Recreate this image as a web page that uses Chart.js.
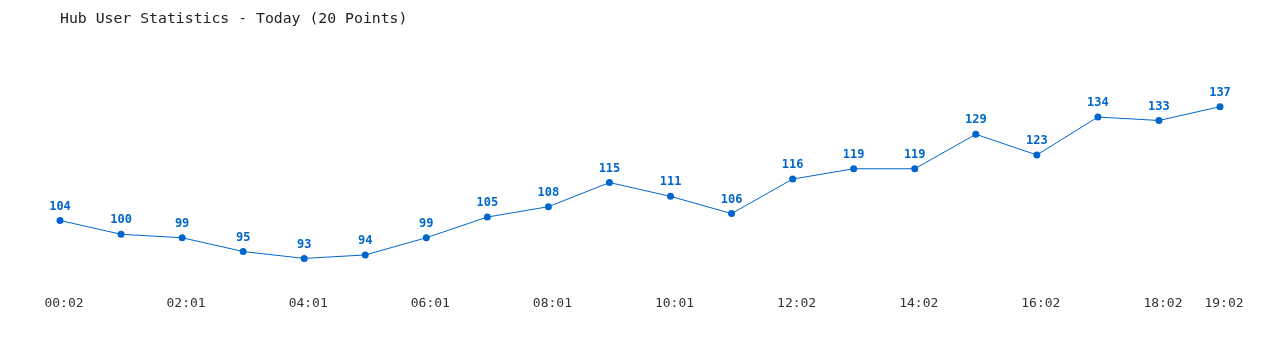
<!DOCTYPE html>
<html>
<head>
<meta charset="utf-8">
<script src="https://cdn.jsdelivr.net/npm/chart.js@4/dist/chart.umd.min.js"></script>
<style>
html,body{margin:0;padding:0;background:#fff;}
#wrap{width:1280px;height:350px;position:relative;}
</style>
</head>
<body>
<div id="wrap"><canvas id="c" width="1280" height="350"></canvas></div>
<script>
const titleText = "Hub User Statistics - Today (20 Points)";
const categories = ["00:02","01:01","02:01","03:01","04:01","05:01","06:01","07:01","08:01","09:01",
                    "10:01","11:01","12:02","13:02","14:02","15:02","16:02","17:02","18:02","19:02"];
const users = [104,100,99,95,93,94,99,105,108,115,111,106,116,119,119,129,123,134,133,137];
const shownTickIndexes = [0,2,4,6,8,10,12,14,16,18,19];

const lineColor = "#0066cc";

const valueLabels = {
  id: "valueLabels",
  afterDatasetsDraw(chart) {
    const ctx = chart.ctx;
    const meta = chart.getDatasetMeta(0);
    ctx.save();
    ctx.font = "bold 12px 'DejaVu Sans Mono', monospace";
    ctx.fillStyle = lineColor;
    ctx.textAlign = "center";
    ctx.textBaseline = "middle";
    meta.data.forEach((pt, i) => {
      ctx.fillText(String(users[i]), pt.x, pt.y - 14);
    });
    ctx.restore();
  }
};

new Chart(document.getElementById("c"), {
  type: "line",
  data: {
    labels: categories,
    datasets: [{
      data: users,
      borderColor: lineColor,
      borderWidth: 1,
      backgroundColor: lineColor,
      pointBackgroundColor: lineColor,
      pointBorderColor: lineColor,
      pointRadius: 3.5,
      pointBorderWidth: 0,
      tension: 0,
      fill: false
    }]
  },
  options: {
    responsive: false,
    animation: false,
    layout: { padding: { left: 60, right: 60, top: 0, bottom: 35.5 } },
    plugins: {
      legend: { display: false },
      tooltip: { enabled: false },
      title: {
        display: true,
        text: titleText,
        align: "start",
        color: "#222",
        font: { family: "'DejaVu Sans Mono', monospace", size: 14.8, weight: "normal" },
        padding: { top: 10, bottom: 41 }
      }
    },
    scales: {
      x: {
        offset: false,
        grid: { display: false, drawTicks: false },
        border: { display: false },
        ticks: {
          autoSkip: false,
          maxRotation: 0,
          color: "#333",
          labelOffset: 4,
          padding: 3,
          font: { family: "'DejaVu Sans Mono', monospace", size: 13 },
          callback: function(v, i) {
            return shownTickIndexes.includes(i) ? categories[i] : "";
          }
        }
      },
      y: {
        display: false,
        min: 83,
        max: 148
      }
    }
  },
  plugins: [valueLabels]
});
</script>
</body>
</html>
